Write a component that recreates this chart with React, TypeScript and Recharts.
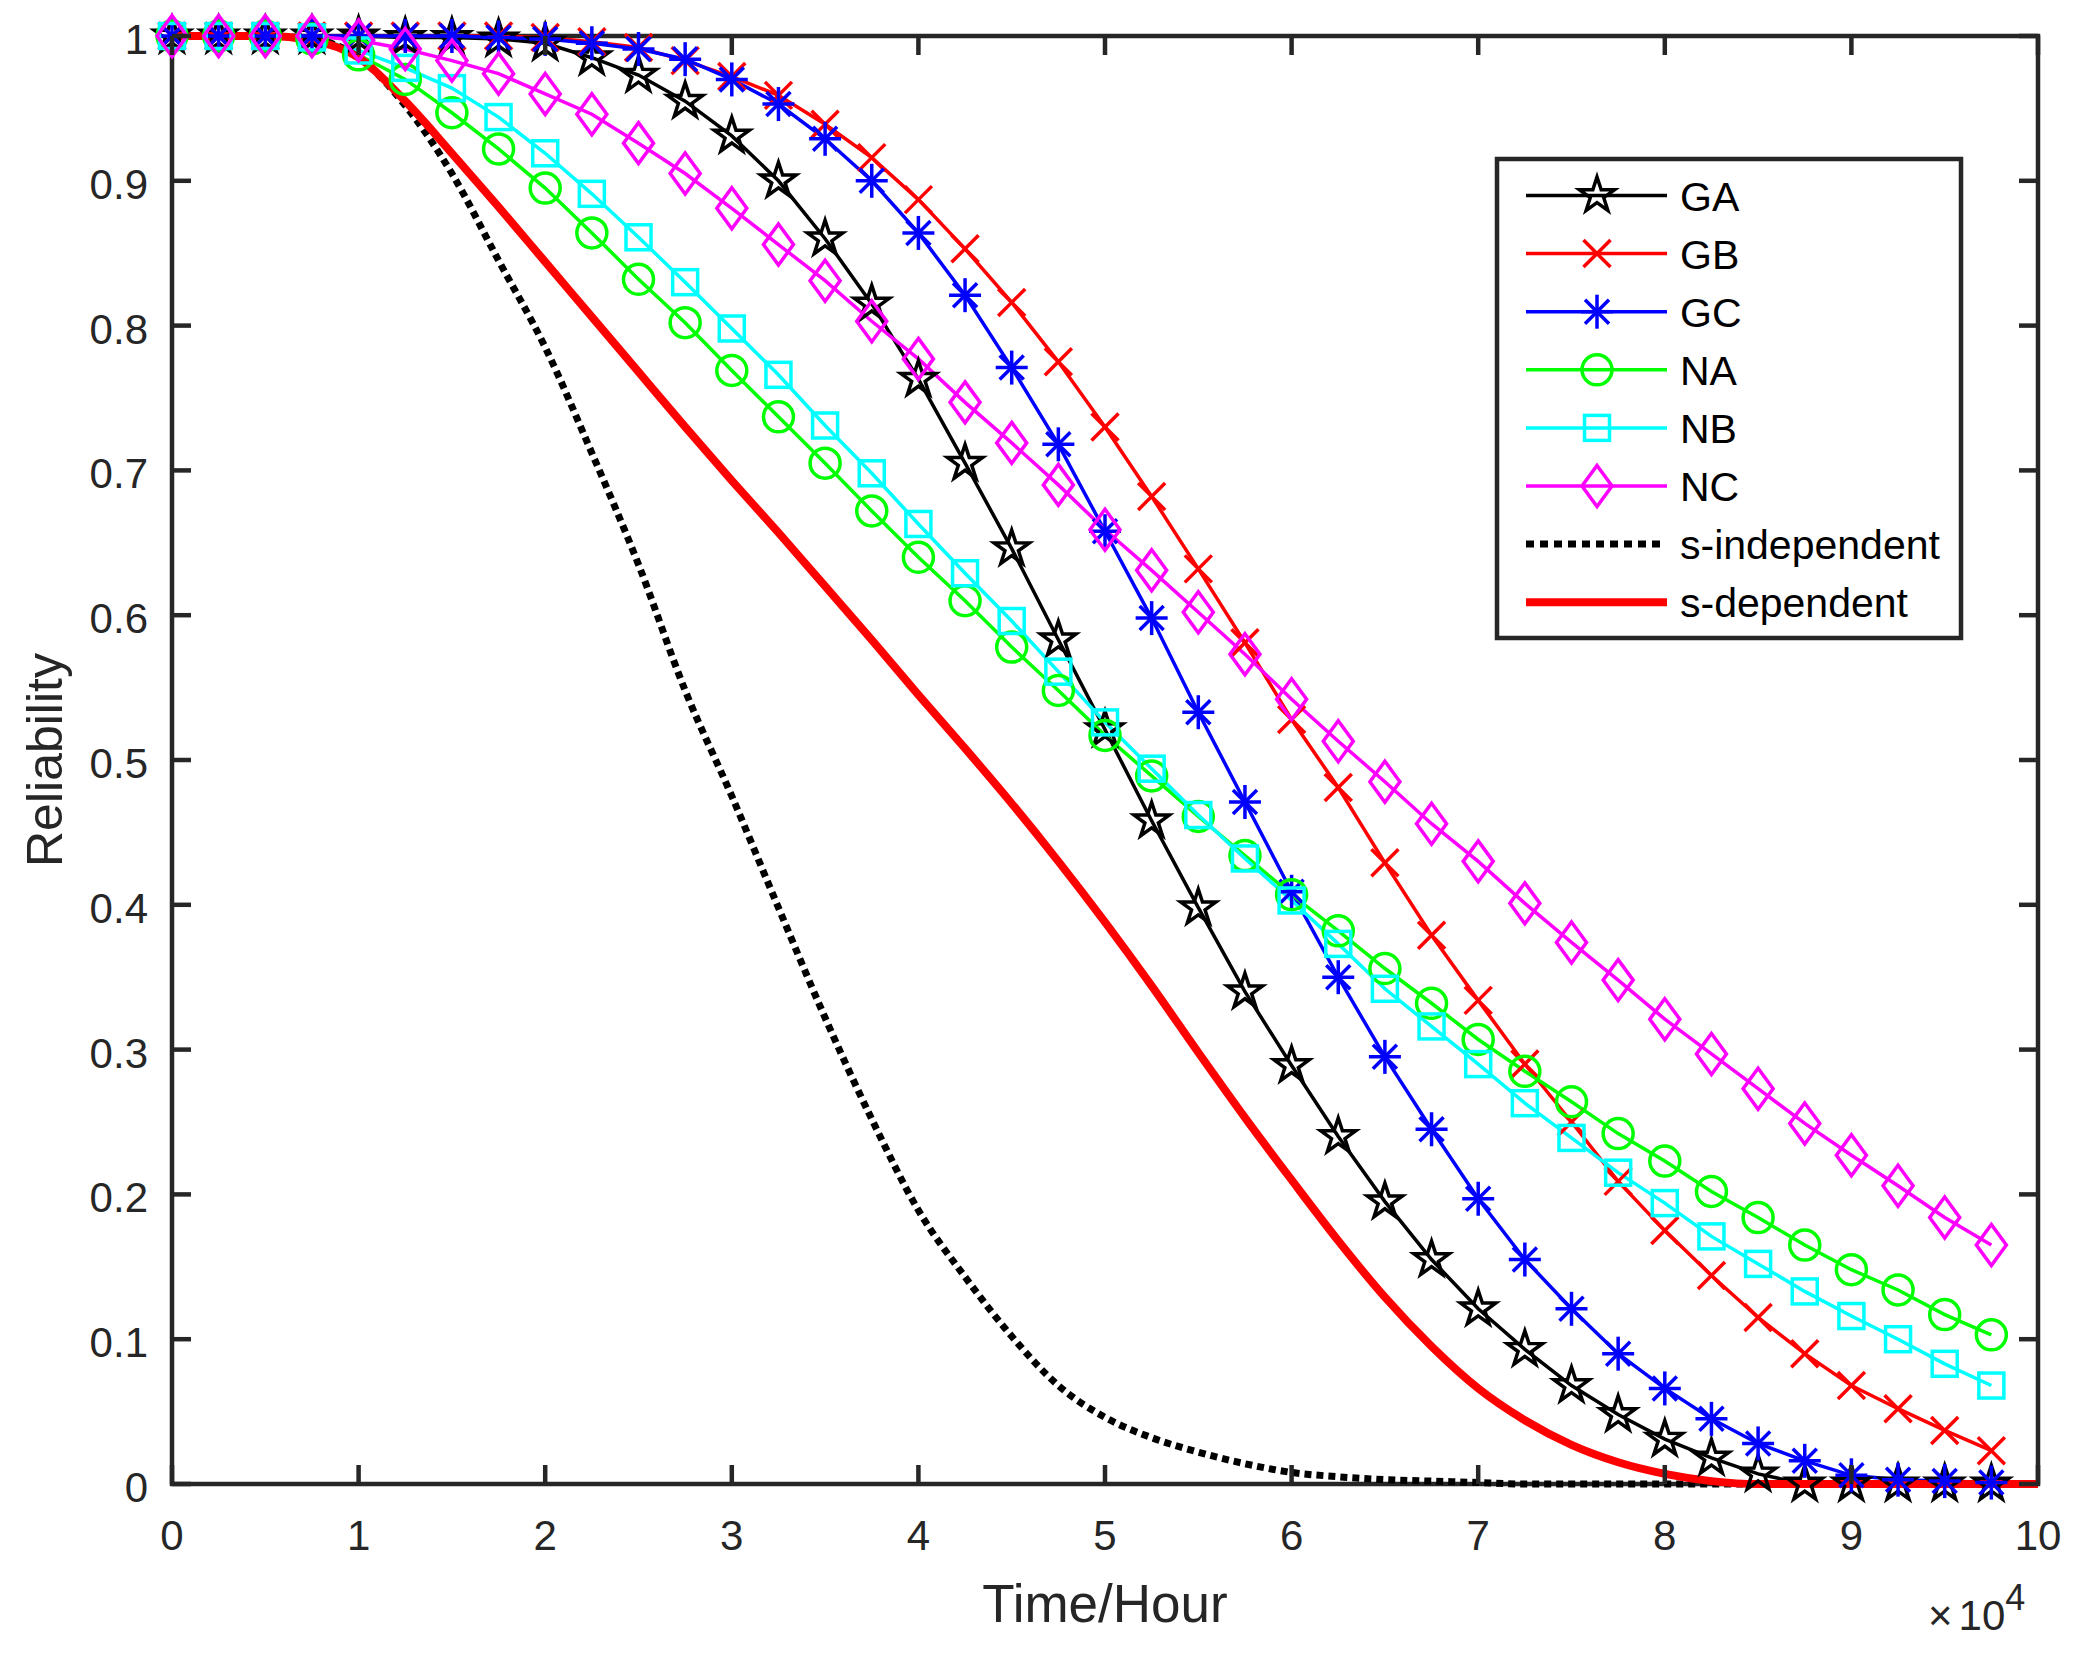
import React from 'react';
import { LineChart, Line, XAxis, YAxis, ReferenceArea, Customized } from 'recharts';

// sample times (hours) where the markers sit
const HOURS = [
  0, 2500, 5000, 7500, 10000, 12500, 15000, 17500, 20000, 22500,
  25000, 27500, 30000, 32500, 35000, 37500, 40000, 42500, 45000, 47500,
  50000, 52500, 55000, 57500, 60000, 62500, 65000, 67500, 70000, 72500,
  75000, 77500, 80000, 82500, 85000, 87500, 90000, 92500, 95000, 97500,
];
// the two smooth curves run to the end of the axis
const HOURS_FULL = [...HOURS, 100000];

const GA = [
  1, 1, 1, 1, 1, 0.999, 0.999, 0.998, 0.995, 0.985,
  0.973, 0.955, 0.931, 0.9, 0.86, 0.815, 0.763, 0.705, 0.646, 0.583,
  0.521, 0.458, 0.398, 0.34, 0.289, 0.24, 0.195, 0.155, 0.121, 0.093,
  0.068, 0.048, 0.031, 0.018, 0.007, 0, 0, 0, 0, 0,
];
const GB = [
  1, 1, 1, 1, 1, 1, 1, 1, 0.999, 0.996,
  0.992, 0.983, 0.972, 0.959, 0.939, 0.916, 0.887, 0.853, 0.816, 0.775,
  0.73, 0.682, 0.632, 0.581, 0.528, 0.481, 0.429, 0.379, 0.334, 0.29,
  0.25, 0.209, 0.175, 0.144, 0.115, 0.09, 0.068, 0.052, 0.037, 0.023,
];
const GC = [
  1, 1, 1, 1, 1, 1, 1, 0.999, 0.998, 0.995,
  0.991, 0.984, 0.97, 0.953, 0.929, 0.9, 0.864, 0.821, 0.771, 0.718,
  0.658, 0.598, 0.533, 0.471, 0.409, 0.35, 0.295, 0.245, 0.197, 0.155,
  0.121, 0.09, 0.066, 0.045, 0.028, 0.016, 0.006, 0.003, 0.002, 0.001,
];
const NA = [
  1, 1, 1, 0.998, 0.987, 0.97, 0.947, 0.922, 0.895, 0.864,
  0.832, 0.802, 0.769, 0.737, 0.705, 0.672, 0.64, 0.61, 0.578, 0.548,
  0.517, 0.489, 0.461, 0.434, 0.407, 0.382, 0.356, 0.332, 0.307, 0.285,
  0.264, 0.242, 0.223, 0.202, 0.184, 0.165, 0.148, 0.134, 0.117, 0.103,
];
const NB = [
  1, 1, 1, 0.999, 0.99, 0.978, 0.964, 0.944, 0.919, 0.891,
  0.861, 0.83, 0.798, 0.766, 0.731, 0.698, 0.663, 0.629, 0.596, 0.561,
  0.526, 0.494, 0.462, 0.432, 0.403, 0.373, 0.342, 0.316, 0.29, 0.263,
  0.239, 0.215, 0.194, 0.171, 0.152, 0.133, 0.116, 0.1, 0.083, 0.068,
];
const NC = [
  1, 1, 1, 1, 0.997, 0.991, 0.983, 0.974, 0.96, 0.946,
  0.926, 0.905, 0.881, 0.856, 0.831, 0.803, 0.777, 0.747, 0.719, 0.69,
  0.659, 0.631, 0.602, 0.573, 0.542, 0.513, 0.485, 0.456, 0.43, 0.401,
  0.374, 0.348, 0.321, 0.297, 0.273, 0.249, 0.227, 0.206, 0.184, 0.165,
];
const S_INDEP = [
  1, 1, 1, 0.998, 0.985, 0.952, 0.905, 0.845, 0.785, 0.712,
  0.635, 0.548, 0.475, 0.398, 0.322, 0.252, 0.189, 0.143, 0.102, 0.068,
  0.046, 0.032, 0.022, 0.014, 0.008, 0.005, 0.003, 0.002, 0.001, 0,
  0, 0, 0, 0, 0, 0, 0, 0, 0, 0, 0,
];
const S_DEP = [
  1, 1, 1, 0.997, 0.985, 0.955, 0.919, 0.882, 0.844, 0.806,
  0.768, 0.73, 0.693, 0.657, 0.62, 0.583, 0.545, 0.508, 0.47, 0.43,
  0.388, 0.344, 0.298, 0.253, 0.21, 0.168, 0.129, 0.095, 0.066, 0.044,
  0.027, 0.015, 0.007, 0.002, 0, 0, 0, 0, 0, 0, 0,
];

const X_TICKS = [0, 10000, 20000, 30000, 40000, 50000, 60000, 70000, 80000, 90000, 100000];
const X_TICK_LABELS = ['0', '1', '2', '3', '4', '5', '6', '7', '8', '9', '10'];
const Y_TICKS = [0, 0.1, 0.2, 0.3, 0.4, 0.5, 0.6, 0.7, 0.8, 0.9, 1];
const Y_TICK_LABELS = ['0', '0.1', '0.2', '0.3', '0.4', '0.5', '0.6', '0.7', '0.8', '0.9', '1'];

// layout (px)
const W = 2079;
const H = 1656;
const PLOT = { left: 172, right: 2038, top: 36, bottom: 1484 };
const TICK_LEN = 19;
const AXIS_COLOR = '#262626';
const FONT = "'Liberation Sans', Arial, Helvetica, sans-serif";

type Shape = 'star' | 'x' | 'asterisk' | 'circle' | 'square' | 'diamond' | 'none';

interface SeriesConfig {
  name: string;
  color: string;
  shape: Shape;
  width: number;
  dash?: string;
  legendDash?: string;
  smooth?: boolean;
  hours: number[];
  values: number[];
}

const SERIES: SeriesConfig[] = [
  { name: 'GA', color: '#000000', shape: 'star', width: 3.5, hours: HOURS, values: GA },
  { name: 'GB', color: '#ff0000', shape: 'x', width: 3.5, hours: HOURS, values: GB },
  { name: 'GC', color: '#0000ff', shape: 'asterisk', width: 3.5, hours: HOURS, values: GC },
  { name: 'NA', color: '#00ff00', shape: 'circle', width: 3.5, hours: HOURS, values: NA },
  { name: 'NB', color: '#00ffff', shape: 'square', width: 3.5, hours: HOURS, values: NB },
  { name: 'NC', color: '#ff00ff', shape: 'diamond', width: 3.5, hours: HOURS, values: NC },
  { name: 's-independent', color: '#000000', shape: 'none', width: 7, dash: '7 5', legendDash: '8 6', smooth: true, hours: HOURS_FULL, values: S_INDEP },
  { name: 's-dependent', color: '#ff0000', shape: 'none', width: 8, smooth: true, hours: HOURS_FULL, values: S_DEP },
];

const toPoints = (hours: number[], values: number[]) =>
  hours.map((t, i) => ({ t, v: values[i] }));

// marker glyphs, centred on (cx, cy)
function marker(shape: Shape, cx: number, cy: number, color: string) {
  const common = { stroke: color, strokeWidth: 3.5, fill: 'none' };
  switch (shape) {
    case 'star': {
      const pts: string[] = [];
      for (let i = 0; i < 10; i++) {
        const a = (-90 + i * 36) * (Math.PI / 180);
        const r = i % 2 === 0 ? 18.5 : 7.1;
        pts.push(`${cx + r * Math.cos(a)},${cy + r * Math.sin(a)}`);
      }
      return <polygon points={pts.join(' ')} {...common} strokeLinejoin="miter" />;
    }
    case 'x':
      return (
        <g {...common}>
          <line x1={cx - 13.5} y1={cy - 13.5} x2={cx + 13.5} y2={cy + 13.5} />
          <line x1={cx - 13.5} y1={cy + 13.5} x2={cx + 13.5} y2={cy - 13.5} />
        </g>
      );
    case 'asterisk':
      return (
        <g {...common}>
          <line x1={cx} y1={cy - 17} x2={cx} y2={cy + 17} />
          <line x1={cx - 16} y1={cy} x2={cx + 16} y2={cy} />
          <line x1={cx - 12} y1={cy - 12} x2={cx + 12} y2={cy + 12} />
          <line x1={cx - 12} y1={cy + 12} x2={cx + 12} y2={cy - 12} />
        </g>
      );
    case 'circle':
      return <circle cx={cx} cy={cy} r={15} {...common} />;
    case 'square':
      return <rect x={cx - 12.5} y={cy - 12.5} width={25} height={25} {...common} />;
    case 'diamond':
      return (
        <polygon
          points={`${cx},${cy - 20.5} ${cx + 15},${cy} ${cx},${cy + 20.5} ${cx - 15},${cy}`}
          {...common}
        />
      );
    default:
      return null;
  }
}

const makeDot = (s: SeriesConfig) => (props: any) => {
  const { cx, cy, index } = props;
  if (cx == null || cy == null) return <g key={`${s.name}-${index}`} />;
  return <g key={`${s.name}-${index}`}>{marker(s.shape, cx, cy, s.color)}</g>;
};

const textStyle = { fontFamily: FONT, fill: AXIS_COLOR };

// bottom tick: label + inward ticks on bottom and top edges
const XTick = (props: any) => {
  const { x, index } = props;
  return (
    <g>
      <line x1={x} x2={x} y1={PLOT.bottom} y2={PLOT.bottom - TICK_LEN} stroke={AXIS_COLOR} strokeWidth={4.5} />
      <line x1={x} x2={x} y1={PLOT.top} y2={PLOT.top + TICK_LEN} stroke={AXIS_COLOR} strokeWidth={4.5} />
      <text x={x} y={PLOT.bottom + 66} textAnchor="middle" fontSize={42} style={textStyle}>
        {X_TICK_LABELS[index]}
      </text>
    </g>
  );
};

// left tick: label + inward ticks on left and right edges
const YTick = (props: any) => {
  const { y, index } = props;
  return (
    <g>
      <line x1={PLOT.left} x2={PLOT.left + TICK_LEN} y1={y} y2={y} stroke={AXIS_COLOR} strokeWidth={4.5} />
      <line x1={PLOT.right - TICK_LEN} x2={PLOT.right} y1={y} y2={y} stroke={AXIS_COLOR} strokeWidth={4.5} />
      <text x={PLOT.left - 24} y={y + 18} textAnchor="end" fontSize={42} style={textStyle}>
        {Y_TICK_LABELS[index]}
      </text>
    </g>
  );
};

const AxisTitles = () => (
  <g>
    <text x={(PLOT.left + PLOT.right) / 2} y={1622} textAnchor="middle" fontSize={53} style={textStyle}>
      Time/Hour
    </text>
    <text
      x={62}
      y={(PLOT.top + PLOT.bottom) / 2}
      textAnchor="middle"
      fontSize={50}
      transform={`rotate(-90 62 ${(PLOT.top + PLOT.bottom) / 2})`}
      style={textStyle}
    >
      Reliability
    </text>
    <text x={1928} y={1630} fontSize={42} style={textStyle}>
      ×<tspan dx={6}>10</tspan>
      <tspan dy={-20} fontSize={36}>4</tspan>
    </text>
  </g>
);

const LEGEND = { x: 1497, y: 159, w: 464, h: 479, row0: 195.5, rowGap: 58.1 };

const LegendBox = () => (
  <g>
    <rect x={LEGEND.x} y={LEGEND.y} width={LEGEND.w} height={LEGEND.h} fill="#ffffff" stroke={AXIS_COLOR} strokeWidth={4.5} />
    {SERIES.map((s, i) => {
      const cy = LEGEND.row0 + i * LEGEND.rowGap;
      return (
        <g key={s.name}>
          <line
            x1={1526}
            x2={s.legendDash ? 1660 : 1667}
            y1={cy}
            y2={cy}
            stroke={s.color}
            strokeWidth={s.width}
            strokeDasharray={s.legendDash}
          />
          {marker(s.shape, 1597, cy, s.color)}
          <text x={1680} y={cy + 15} fontSize={41} style={{ fontFamily: FONT, fill: '#000000' }}>
            {s.name}
          </text>
        </g>
      );
    })}
  </g>
);

export default function App() {
  return (
    <div style={{ position: 'absolute', left: 0, top: 0, width: W, height: H, background: '#ffffff' }}>
      <LineChart width={W} height={H} margin={{ top: PLOT.top, right: W - PLOT.right, bottom: 0, left: 0 }}>
        <XAxis
          dataKey="t"
          type="number"
          domain={[0, 100000]}
          ticks={X_TICKS}
          height={H - PLOT.bottom}
          axisLine={false}
          tickLine={false}
          tickSize={0}
          tickMargin={0}
          tick={<XTick />}
          interval={0}
          allowDuplicatedCategory={false}
        />
        <YAxis
          type="number"
          domain={[0, 1]}
          ticks={Y_TICKS}
          width={PLOT.left}
          axisLine={false}
          tickLine={false}
          tickSize={0}
          tickMargin={0}
          tick={<YTick />}
          interval={0}
        />
        <ReferenceArea
          x1={0}
          x2={100000}
          y1={0}
          y2={1}
          fill="none"
          fillOpacity={0}
          stroke={AXIS_COLOR}
          strokeWidth={4.5}
          ifOverflow="visible"
        />
        {SERIES.map((s) => (
          <Line
            key={s.name}
            data={toPoints(s.hours, s.values)}
            dataKey="v"
            name={s.name}
            type={s.smooth ? 'monotone' : 'linear'}
            stroke={s.color}
            strokeWidth={s.width}
            strokeDasharray={s.dash}
            dot={s.shape === 'none' ? false : makeDot(s)}
            activeDot={false}
            isAnimationActive={false}
          />
        ))}
        <Customized component={AxisTitles} />
        <Customized component={LegendBox} />
      </LineChart>
    </div>
  );
}
